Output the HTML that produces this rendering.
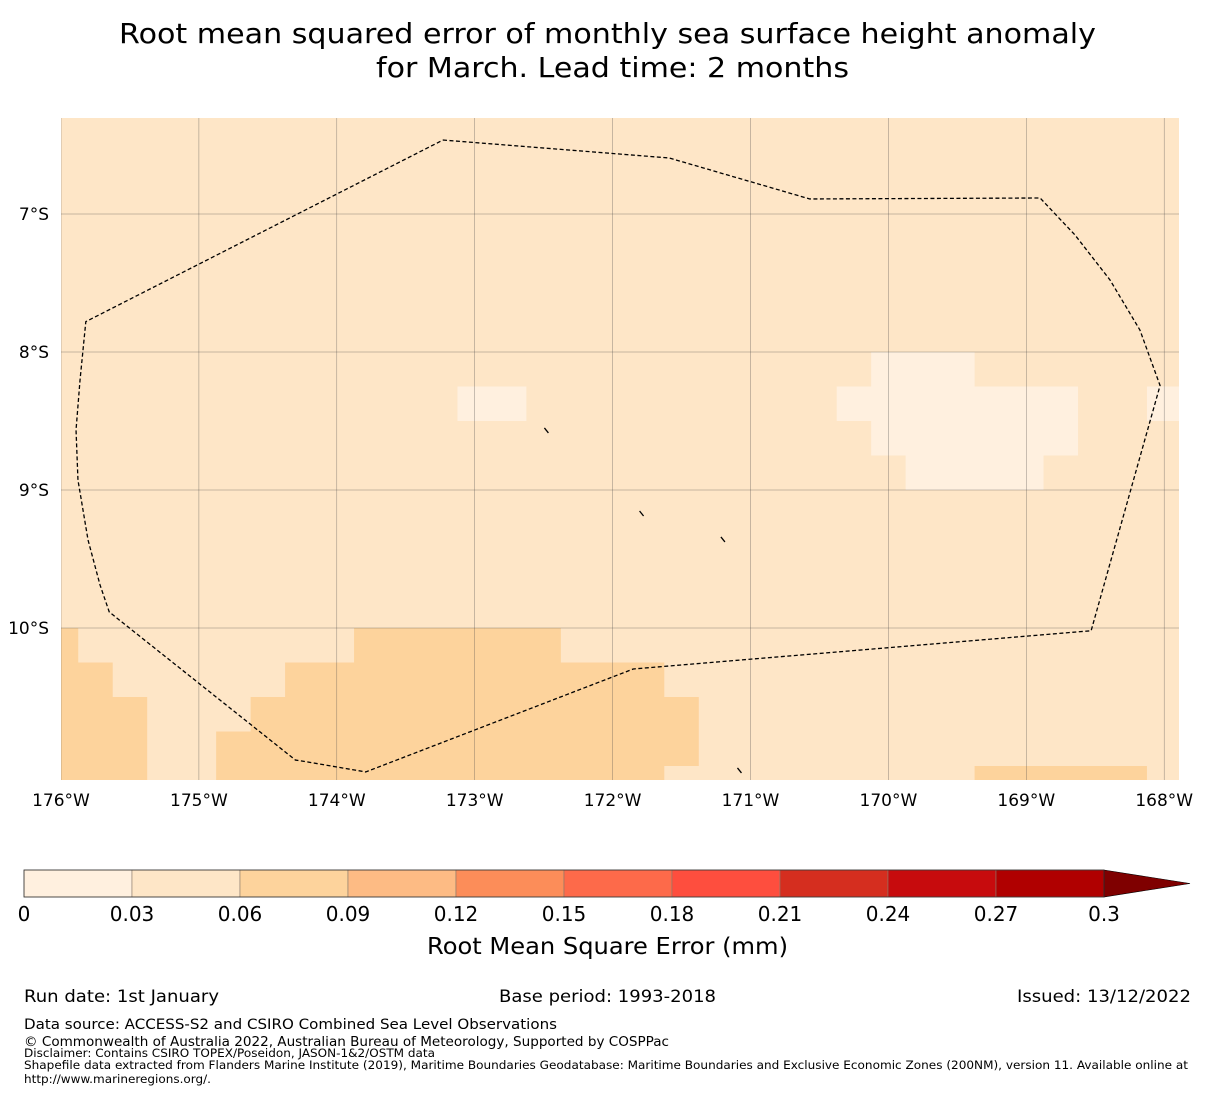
<!DOCTYPE html>
<html><head><meta charset="utf-8"><style>
body{margin:0;background:#fff;}
svg{display:block;font-family:"DejaVu Sans","Liberation Sans",sans-serif;}
</style></head><body>
<svg id="chart" width="1215" height="1095" viewBox="0 0 1215 1095" xmlns="http://www.w3.org/2000/svg">
<text x="119" y="43" font-size="28" textLength="977" lengthAdjust="spacingAndGlyphs" fill="#000">Root mean squared error of monthly sea surface height anomaly</text>
<text x="376" y="77" font-size="28" textLength="473" lengthAdjust="spacingAndGlyphs" fill="#000">for March. Lead time: 2 months</text>
<g id="map"></g>
<g id="cbar"></g>
<text x="427" y="954" font-size="23" textLength="361" lengthAdjust="spacingAndGlyphs">Root Mean Square Error (mm)</text>
<text x="24" y="1002" font-size="17" textLength="195" lengthAdjust="spacingAndGlyphs">Run date: 1st January</text>
<text x="499" y="1002" font-size="17" textLength="217" lengthAdjust="spacingAndGlyphs">Base period: 1993-2018</text>
<text x="1017" y="1002" font-size="17" textLength="174" lengthAdjust="spacingAndGlyphs">Issued: 13/12/2022</text>
<text x="24" y="1029" font-size="14.5" textLength="533" lengthAdjust="spacingAndGlyphs">Data source: ACCESS-S2 and CSIRO Combined Sea Level Observations</text>
<text x="24" y="1046" font-size="13.5" textLength="645" lengthAdjust="spacingAndGlyphs">© Commonwealth of Australia 2022, Australian Bureau of Meteorology, Supported by COSPPac</text>
<text x="24" y="1057" font-size="11.5" textLength="411" lengthAdjust="spacingAndGlyphs">Disclaimer: Contains CSIRO TOPEX/Poseidon, JASON-1&amp;2/OSTM data</text>
<text x="24" y="1069" font-size="11.5" textLength="1164" lengthAdjust="spacingAndGlyphs">Shapefile data extracted from Flanders Marine Institute (2019), Maritime Boundaries Geodatabase: Maritime Boundaries and Exclusive Economic Zones (200NM), version 11. Available online at</text>
<text x="24" y="1083" font-size="11.5" textLength="187" lengthAdjust="spacingAndGlyphs">http://www.marineregions.org/.</text>
</svg>
<script>
const lonTicks=[-176,-175,-174,-173,-172,-171,-170,-169,-168];
const latTicks=[-7,-8,-9,-10];
const levels=[0,0.03,0.06,0.09,0.12,0.15,0.18,0.21,0.24,0.27,0.3];
const levelColors=["#fff0df","#fee6c7","#fdd39c","#fdbb84","#fc8d59","#fd6a4a","#fe4e3e","#d52e1f","#c70b0d","#b00000"];
const overColor="#7f0000";
const bgValue=0.045;
// cells: [lonMin, lonMax, latMin, latMax, value]
const cellLon0=[-173.125,-170.125,-170.375,-170.125,-169.875,-168.125,-176.1,-176.1,-176.1,-173.875,-174.375,-174.625,-174.875,-174.875,-169.375];
const cellLon1=[-172.625,-169.375,-168.625,-168.625,-168.875,-167.8,-175.875,-175.625,-175.375,-172.375,-171.625,-171.375,-171.375,-171.625,-168.125];
const cellLat0=[-8.5,-8.25,-8.5,-8.75,-9.0,-8.5,-10.25,-10.5,-11.2,-10.25,-10.5,-10.75,-11.0,-11.2,-11.2];
const cellLat1=[-8.25,-8.0,-8.25,-8.5,-8.75,-8.25,-10.0,-10.25,-10.5,-10.0,-10.25,-10.5,-10.75,-11.0,-11.0];
const cellVal=[0.02,0.02,0.02,0.02,0.02,0.02,0.07,0.07,0.07,0.07,0.07,0.07,0.07,0.07,0.07];
const eezLon=[-173.23,-171.59,-170.57,-168.9,-168.647,-168.393,-168.176,-168.03,-168.53,-171.85,-173.79,-174.21,-174.3,-175.65,-175.717,-175.804,-175.877,-175.891,-175.862,-175.82,-173.23];
const eezLat=[-6.464,-6.594,-6.891,-6.884,-7.152,-7.478,-7.841,-8.243,-10.02,-10.297,-11.043,-10.971,-10.957,-9.884,-9.688,-9.362,-8.928,-8.565,-8.203,-7.78,-6.464];
const islandLon=[-172.48,-171.79,-171.2,-171.08];
const islandLat=[-8.572,-9.174,-9.362,-11.036];

const NS="http://www.w3.org/2000/svg";
const X0=61,X1=1179,Y0=118,Y1=780;
const x=lon=>61+(lon+176)*137.9;
const y=lat=>214+(-7-lat)*138;
function colorFor(v){for(let i=0;i<levelColors.length;i++){if(v<levels[i+1])return levelColors[i];}return overColor;}
function mk(tag,attrs,parent){const e=document.createElementNS(NS,tag);for(const k in attrs)e.setAttribute(k,attrs[k]);parent.appendChild(e);return e;}
const map=document.getElementById('map');
const defs=mk('defs',{},map);
const cp=mk('clipPath',{id:'clip'},defs);
mk('rect',{x:X0,y:Y0,width:X1-X0,height:Y1-Y0},cp);
const bg=mk('rect',{x:X0,y:Y0,width:X1-X0,height:Y1-Y0,fill:colorFor(bgValue)},map);


const cg=mk('g',{'clip-path':'url(#clip)'},map);
for(let i=0;i<cellVal.length;i++){
  const r=mk('rect',{x:x(cellLon0[i]),y:y(cellLat1[i]),width:x(cellLon1[i])-x(cellLon0[i]),height:y(cellLat0[i])-y(cellLat1[i]),fill:colorFor(cellVal[i])},cg);
  
  
}
lonTicks.forEach(l=>{
  const g=mk('line',{x1:x(l),x2:x(l),y1:Y0,y2:Y1,stroke:'#444','stroke-width':0.5,'stroke-opacity':0.6},cg);
  
  
  const t=mk('text',{x:x(l),y:806,'font-size':17,'text-anchor':'middle'},map);
  t.textContent=Math.abs(l)+'°W';
  
  
});
latTicks.forEach(l=>{
  const g=mk('line',{x1:X0,x2:X1,y1:y(l),y2:y(l),stroke:'#444','stroke-width':0.5,'stroke-opacity':0.6},cg);
  
  
  const t=mk('text',{x:49,y:y(l)+6,'font-size':17,'text-anchor':'end'},map);
  t.textContent=Math.abs(l)+'°S';
  
  
});
const pts=eezLon.map((l,i)=>x(l)+','+y(eezLat[i])).join(' ');
const eez=mk('polyline',{points:pts,fill:'none',stroke:'#000','stroke-width':1.3,'stroke-dasharray':'4,2.5','stroke-linejoin':'round'},cg);


islandLon.forEach((l,i)=>{
  const d=mk('line',{x1:x(l)-2,y1:y(islandLat[i])-3,x2:x(l)+2,y2:y(islandLat[i])+2,stroke:'#000','stroke-width':1.3},cg);
  
  
});
const cb=document.getElementById('cbar');
const CB0=24,CB1=1104,CBY=870,CBH=27;
const cx=v=>CB0+(v-levels[0])/(levels[levels.length-1]-levels[0])*(CB1-CB0);
for(let i=0;i<levelColors.length;i++){
  const r=mk('rect',{x:cx(levels[i]),y:CBY,width:cx(levels[i+1])-cx(levels[i]),height:CBH,fill:levelColors[i],stroke:'#8a7a6a','stroke-width':0.6},cb);
  
  
}
const ar=mk('polygon',{points:`${CB1},${CBY} 1190,${CBY+CBH/2} ${CB1},${CBY+CBH}`,fill:overColor,stroke:'#000','stroke-width':0.6},cb);


mk('rect',{x:CB0,y:CBY,width:CB1-CB0,height:CBH,fill:'none',stroke:'#333','stroke-width':0.8},cb);
levels.forEach(v=>{
  const t=mk('text',{x:cx(v),y:921,'font-size':20,'text-anchor':'middle'},cb);
  t.textContent=String(v);
  
  
});
</script>
</body></html>
